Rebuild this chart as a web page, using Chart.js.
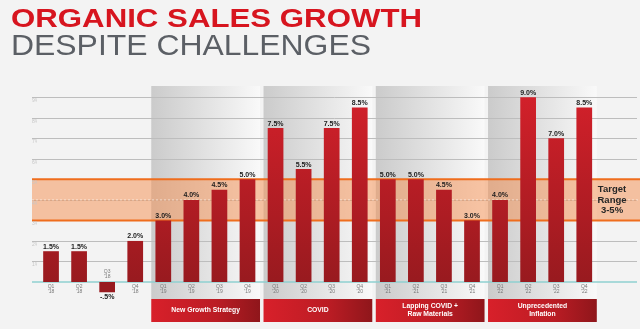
<!DOCTYPE html>
<html>
<head>
<meta charset="utf-8">
<style>
  html, body { margin: 0; padding: 0; background: #f3f3f3; }
  #wrap { width: 640px; height: 329px; }
</style>
<script src="https://cdn.jsdelivr.net/npm/chart.js@4.4.0/dist/chart.umd.min.js"></script>
</head>
<body>
<div id="wrap"><canvas id="growthChart" width="640" height="329"></canvas></div>
<script>
// Quarterly organic sales growth, 2018-2022
const quarterNames = ['Q1', 'Q2', 'Q3', 'Q4', 'Q1', 'Q2', 'Q3', 'Q4', 'Q1', 'Q2', 'Q3', 'Q4',
                      'Q1', 'Q2', 'Q3', 'Q4', 'Q1', 'Q2', 'Q3', 'Q4'];
const yearNames = ["'18", "'18", "'18", "'18", "'19", "'19", "'19", "'19", "'20", "'20", "'20", "'20",
                   "'21", "'21", "'21", "'21", "'22", "'22", "'22", "'22"];
const growth = [1.5, 1.5, -0.5, 2.0, 3.0, 4.0, 4.5, 5.0, 7.5, 5.5, 7.5, 8.5,
                5.0, 5.0, 4.5, 3.0, 4.0, 9.0, 7.0, 8.5];

// Target growth band (percent)
const targetRange = [3, 5];
const targetNote = ['Target', 'Range', '3-5%'];

// Phases shown under the quarters
const phaseNames = [['New Growth Strategy'], ['COVID'], ['Lapping COVID +', 'Raw Materials'], ['Unprecedented', 'Inflation']];
const phaseFirst = [4, 8, 12, 16];
const phaseLength = [4, 4, 4, 4];

const titleLines = ['ORGANIC SALES GROWTH', 'DESPITE CHALLENGES'];

const FONT = '"Liberation Sans", Arial, sans-serif';
const GRID_TOP = 9;

function pctLabel(v) {
  let s = Math.abs(v).toFixed(1);
  if (Math.abs(v) < 1) s = s.slice(1);
  return (v < 0 ? '-' : '') + s + '%';
}

function drawFitted(ctx, text, x, baseline, width, font, color) {
  ctx.save();
  ctx.font = font;
  ctx.fillStyle = color;
  ctx.textBaseline = 'alphabetic';
  ctx.textAlign = 'left';
  const w = ctx.measureText(text).width;
  ctx.translate(x, baseline);
  ctx.scale(width / w, 1);
  ctx.fillText(text, 0, 0);
  ctx.restore();
}

const backdrop = {
  id: 'backdrop',
  beforeDraw(chart) {
    const { ctx, chartArea, scales: { x, y } } = chart;
    ctx.save();
    ctx.fillStyle = '#f3f3f3';
    ctx.fillRect(0, 0, chart.width, chart.height);

    drawFitted(ctx, titleLines[0], 11, 27, 411, 'bold 26px ' + FONT, '#d7151f');
    drawFitted(ctx, titleLines[1], 11, 55, 360, '30px ' + FONT, '#5b5f65');

    // phase columns and their captions
    const step = x.getPixelForValue(1) - x.getPixelForValue(0);
    phaseFirst.forEach((first, i) => {
      const left = x.getPixelForValue(first) - step / 2 + 2;
      const right = x.getPixelForValue(first + phaseLength[i] - 1) + step / 2 - 1.5;
      const top = chartArea.top - 1;
      const boxTop = 299, boxBottom = 322;
      const g = ctx.createLinearGradient(left, 0, right, 0);
      g.addColorStop(0, '#cbcbcb');
      g.addColorStop(0.5, '#e2e2e2');
      g.addColorStop(1, '#f9f9f9');
      ctx.fillStyle = g;
      ctx.fillRect(left, top, right - left, boxTop - top);

      const rg = ctx.createLinearGradient(left, 0, right, 0);
      rg.addColorStop(0, '#d8202a');
      rg.addColorStop(0.6, '#bb1c24');
      rg.addColorStop(1, '#8f161b');
      ctx.fillStyle = rg;
      ctx.fillRect(left, boxTop, right - left, boxBottom - boxTop);

      ctx.fillStyle = '#ffffff';
      ctx.font = 'bold 6.8px ' + FONT;
      ctx.textAlign = 'center';
      ctx.textBaseline = 'middle';
      const lines = phaseNames[i];
      const cx = (left + right) / 2, cy = (boxTop + boxBottom) / 2;
      lines.forEach((t, k) => {
        ctx.fillText(t, cx, cy + (k - (lines.length - 1) / 2) * 8);
      });
    });

    // horizontal grid lines
    const gx0 = 32, gx1 = 637;
    y.ticks.forEach(t => {
      if (t.value <= 0 || t.value > GRID_TOP || !Number.isInteger(t.value)) return;
      const py = Math.round(y.getPixelForValue(t.value)) + 0.5;
      ctx.strokeStyle = '#bdbdbd';
      ctx.lineWidth = 1;
      ctx.beginPath();
      ctx.moveTo(gx0, py);
      ctx.lineTo(gx1, py);
      ctx.stroke();
    });

    // target band
    const yHi = y.getPixelForValue(targetRange[1]);
    const yLo = y.getPixelForValue(targetRange[0]);
    ctx.fillStyle = 'rgba(245,141,77,0.5)';
    ctx.fillRect(32, yHi, 640 - 32, yLo - yHi);
    const yMid = y.getPixelForValue((targetRange[0] + targetRange[1]) / 2);
    ctx.strokeStyle = 'rgba(255,255,255,0.55)';
    ctx.lineWidth = 1;
    ctx.setLineDash([2, 2]);
    ctx.beginPath();
    ctx.moveTo(32, yMid);
    ctx.lineTo(640, yMid);
    ctx.stroke();
    ctx.setLineDash([]);
    ctx.strokeStyle = '#ef6d1d';
    ctx.lineWidth = 2;
    [yHi, yLo].forEach(py => {
      ctx.beginPath();
      ctx.moveTo(32, py);
      ctx.lineTo(640, py);
      ctx.stroke();
    });

    // zero line
    const y0 = y.getPixelForValue(0);
    ctx.strokeStyle = '#8fd0d1';
    ctx.lineWidth = 1.5;
    ctx.beginPath();
    ctx.moveTo(gx0, y0);
    ctx.lineTo(gx1, y0);
    ctx.stroke();
    ctx.restore();
  },
  afterDatasetsDraw(chart) {
    const { ctx, scales: { x, y } } = chart;
    const meta = chart.getDatasetMeta(0);
    ctx.save();
    ctx.textAlign = 'center';
    meta.data.forEach((bar, i) => {
      const v = growth[i];
      ctx.fillStyle = '#1c1c1c';
      ctx.font = 'bold 7px ' + FONT;
      if (v >= 0) {
        ctx.textBaseline = 'alphabetic';
        ctx.fillText(pctLabel(v), bar.x, bar.y - 2.5);
      } else {
        ctx.textBaseline = 'top';
        ctx.fillText(pctLabel(v), bar.x, bar.y + 1);
        // quarter caption sits above the axis for a negative bar
        ctx.fillStyle = '#7a7a7a';
        ctx.font = '5px ' + FONT;
        ctx.textBaseline = 'middle';
        const y0 = y.getPixelForValue(0);
        ctx.fillText(quarterNames[i], bar.x, y0 - 10.5);
        ctx.fillText(yearNames[i], bar.x, y0 - 5);
      }
    });

    // target note
    const yMid = y.getPixelForValue((targetRange[0] + targetRange[1]) / 2);
    ctx.fillStyle = '#262626';
    ctx.font = 'bold 9.5px ' + FONT;
    ctx.textBaseline = 'middle';
    targetNote.forEach((t, k) => {
      ctx.fillText(t, 612, yMid + (k - 1) * 10.7);
    });
    ctx.restore();
  }
};

const labels = quarterNames.map((q, i) => [q, yearNames[i]]);

new Chart(document.getElementById('growthChart'), {
  type: 'bar',
  data: {
    labels: labels,
    datasets: [{
      data: growth,
      clip: false,
      barPercentage: 0.56,
      categoryPercentage: 1,
      borderWidth: 0,
      backgroundColor(context) {
        const { ctx, chartArea, scales } = context.chart;
        if (!chartArea) return '#b01c22';
        const g = ctx.createLinearGradient(0, scales.y.getPixelForValue(0), 0, scales.y.getPixelForValue(9));
        g.addColorStop(0, '#981a1f');
        g.addColorStop(1, '#d2202a');
        return g;
      }
    }]
  },
  options: {
    responsive: false,
    animation: false,
    events: [],
    layout: { padding: { left: 32, right: 41.7, top: 87, bottom: 0 } },
    plugins: { legend: { display: false }, tooltip: { enabled: false }, title: { display: false } },
    scales: {
      x: {
        grid: { display: false, drawTicks: false },
        border: { display: false },
        afterFit(scale) { scale.height = 47; },
        ticks: {
          autoSkip: false,
          maxRotation: 0,
          padding: 1.5,
          color: '#7a7a7a',
          font: { family: FONT, size: 5, lineHeight: 1.1 },
          callback(value, index) { return growth[index] < 0 ? '' : labels[index]; }
        }
      },
      y: {
        min: 0,
        max: 9.5,
        grid: { display: false, drawTicks: false },
        border: { display: false },
        afterFit(scale) { scale.width = 5; },
        ticks: {
          stepSize: 1,
          crossAlign: 'far',
          padding: 0,
          labelOffset: 3.5,
          color: '#c6c6c6',
          font: { family: FONT, size: 5 },
          callback(v) { return v > 0 && Number.isInteger(v) ? v + '%' : ''; }
        }
      }
    }
  },
  plugins: [backdrop]
});
</script>
</body>
</html>
